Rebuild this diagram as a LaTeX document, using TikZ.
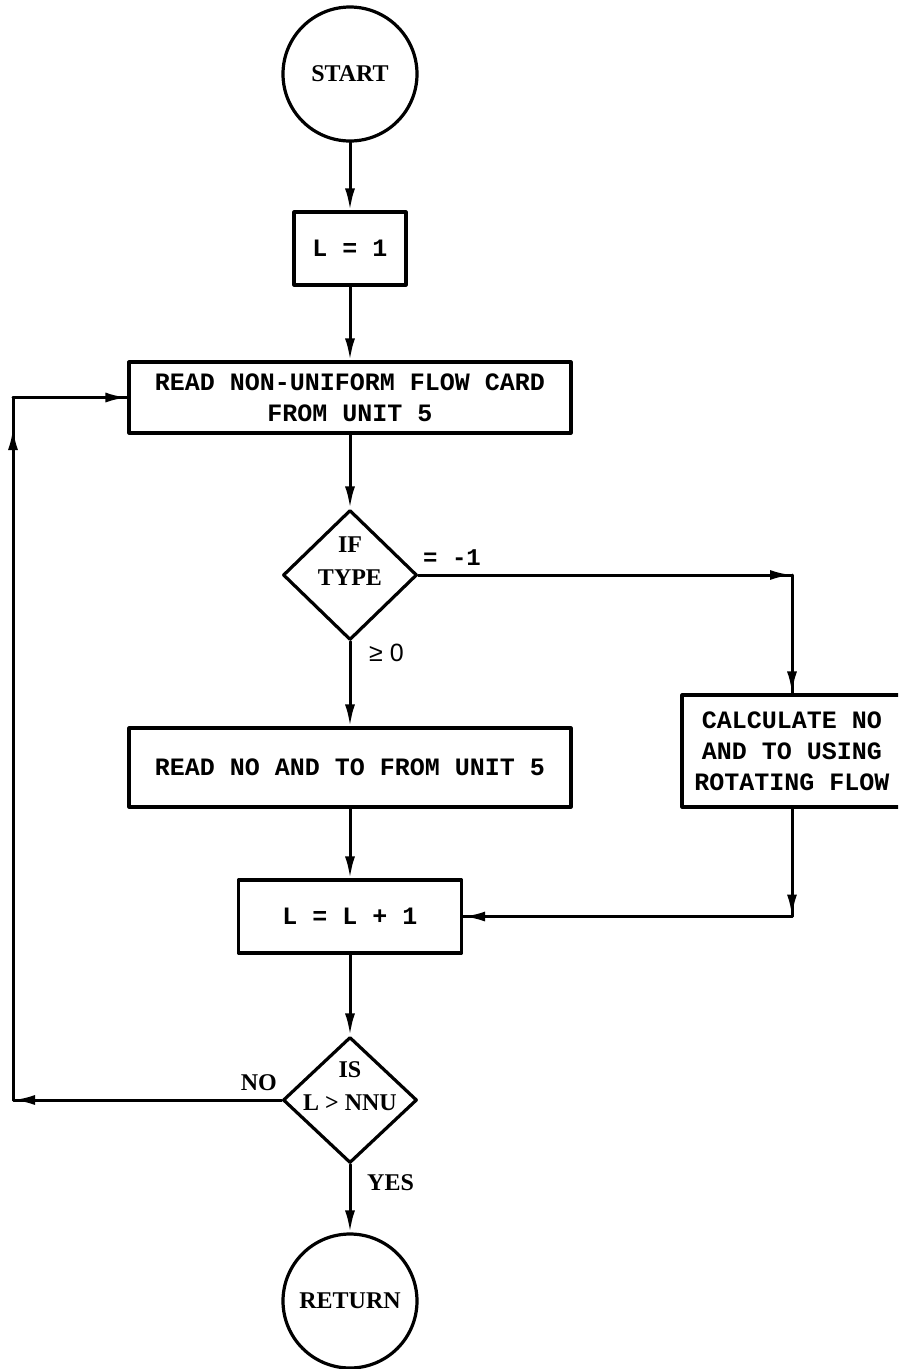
\documentclass[tikz,border=0pt]{standalone}
\usepackage{fontspec}
\setmainfont{Liberation Serif}
\setmonofont{Liberation Mono}
\setsansfont{Liberation Sans}
\usetikzlibrary{arrows.meta,positioning,calc,shapes.geometric}
\tikzset{
  blk/.style={draw,line width=3.2pt,line join=round,inner sep=0pt,align=center},
  term/.style={blk,circle,minimum size=134pt,font=\bfseries\fontsize{24}{28}\selectfont},
  proc/.style={blk,rectangle,font=\ttfamily\bfseries\fontsize{25}{31}\selectfont},
  dec/.style={blk,diamond,minimum width=134pt,minimum height=130pt},
  dtxt/.style={align=center,font=\bfseries\fontsize{24}{33}\selectfont},
  arr/.style={-{Latex[length=22pt,width=10pt]},line width=3pt,line join=round,line cap=round},
  lin/.style={line width=3pt,line join=round,line cap=round},
  lbl/.style={inner sep=1pt,font=\bfseries\fontsize{24}{28}\selectfont},
  tlbl/.style={inner sep=1pt,font=\ttfamily\bfseries\fontsize{24}{27}\selectfont},
}
\begin{document}
\begin{tikzpicture}[x=1pt,y=-1pt]
\clip (0,0) rectangle (898,1369);
\node[term] (start) at (350,74) {START};
\node[proc,minimum width=112pt,minimum height=73pt] (init) at (350,248.5) {L = 1};
\node[proc,minimum width=442pt,minimum height=71pt] (readcard) at (350,397.5)
  {READ NON-UNIFORM FLOW CARD\\FROM UNIT 5};
\node[dec,label={[dtxt,yshift=14pt]center:IF\\TYPE}] (iftype) at (350,575) {};
\node[proc,minimum width=442pt,minimum height=79pt] (readno) at (350,767.5)
  {READ NO AND TO FROM UNIT 5};
\node[proc,minimum width=220pt,minimum height=112pt] (calc) at (792,751)
  {CALCULATE NO\\AND TO USING\\ROTATING FLOW};
\node[proc,minimum width=223pt,minimum height=73pt] (incr) at (350,916.5) {L = L + 1};
\node[dec,minimum height=126pt,label={[dtxt,yshift=14pt]center:IS\\L > NNU}] (isgt) at (350,1100) {};
\node[term] (ret) at (350,1301) {RETURN};
\node[tlbl,anchor=west] (neg) at (422,558) {= -1};
\node[lbl,anchor=west,font=\sffamily\fontsize{25}{29}\selectfont] (pos) at (368,653) {≥\hspace{7pt}0};
\node[lbl,anchor=east] (no) at (278,1083) {NO};
\node[lbl,anchor=west] (yes) at (366,1183) {YES};
\coordinate (cr) at (792,575);
\coordinate (cb) at (792,916.5);
\coordinate (cl) at (13,1100);
\coordinate (cu) at (13,428);
\coordinate (ct) at (13,397.5);
\draw[arr] (start) -- (init);
\draw[arr] (init) -- (readcard);
\draw[arr] (readcard) -- (iftype);
\draw[arr] (iftype) -- (readno);
\draw[lin] (iftype.east) -- (cr) -- (calc.north);
\draw[arr] (iftype.east) -- (cr);
\draw[arr] (cr) -- (calc);
\draw[lin] (calc.south) -- (cb) -- (incr.east);
\draw[arr] (calc) -- (cb);
\draw[arr] (cb) -- (incr);
\draw[arr] (readno) -- (incr);
\draw[arr] (incr) -- (isgt);
\draw[arr] (isgt) -- (ret);
\draw[lin] (isgt.west) -- (cl) -- (ct) -- (readcard.west);
\draw[arr] (isgt.west) -- (cl);
\draw[arr] (cl) -- (cu);
\draw[arr] (ct) -- (readcard);
\end{tikzpicture}
\end{document}
